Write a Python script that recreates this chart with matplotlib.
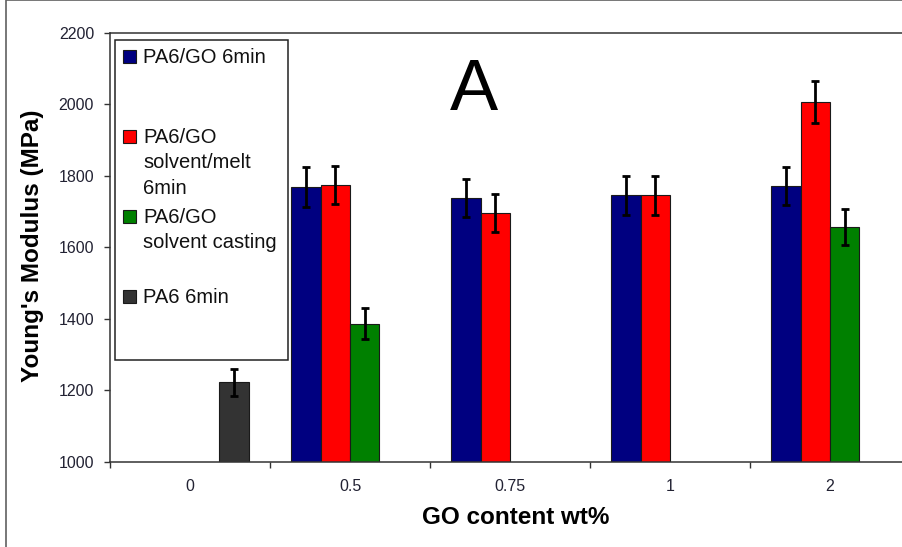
import numpy as np
import matplotlib
matplotlib.use("Agg")
import matplotlib.pyplot as plt
from matplotlib.patches import Rectangle

nan = np.nan

categories = ['0', '0.5', '0.75', '1', '2']

go_6min = [nan, 1768, 1738, 1746, 1772]
go_6min_err = [nan, 56, 54, 54, 53]

solvent_melt = [nan, 1776, 1697, 1746, 2006]
solvent_melt_err = [nan, 53, 53, 54, 59]

solvent_cast = [nan, 1387, nan, nan, 1658]
solvent_cast_err = [nan, 43, nan, nan, 50]

pa6_6min = [1223, nan, nan, nan, nan]
pa6_6min_err = [37, nan, nan, nan, nan]

series = [
    (go_6min, go_6min_err, '#000080', ['PA6/GO 6min']),
    (solvent_melt, solvent_melt_err, '#ff0000', ['PA6/GO', 'solvent/melt', '6min']),
    (solvent_cast, solvent_cast_err, '#008000', ['PA6/GO', 'solvent casting']),
    (pa6_6min, pa6_6min_err, '#333333', ['PA6 6min']),
]

W, H = 902, 547
plt.rcParams['font.family'] = ['Liberation Sans', 'DejaVu Sans']

fig = plt.figure(figsize=(W / 100, H / 100), dpi=100)


def fx(x):
    return x / W


def fy(y):
    return 1 - y / H


# outer frame of the chart
fig.add_artist(Rectangle((fx(5.5), fy(600)), fx(1000), 600 / H, transform=fig.transFigure,
                         fill=False, edgecolor='#606060', linewidth=1.2))

ax = fig.add_axes([fx(110), fy(462), fx(800), 429 / H])

x = np.arange(len(categories))
w = 0.184
for i, (vals, errs, col, _) in enumerate(series):
    pos = x + (i - 1.5) * w
    ax.bar(pos, vals, width=w, color=col, edgecolor='#1a1a1a', linewidth=0.8, zorder=2)
    ax.errorbar(pos, vals, yerr=errs, fmt='none', ecolor='black', elinewidth=2,
                capsize=3.2, capthick=2, zorder=3)

ax.set_xlim(-0.5, len(categories) - 0.5)
ax.set_ylim(1000, 2200)
ax.set_yticks(np.arange(1000, 2201, 200))
ax.set_xticks(x, categories)
ax.set_xticks(np.arange(-0.5, len(categories), 1), minor=True)
ax.tick_params(axis='x', which='major', length=0, pad=12, labelsize=11.5, labelcolor='#222233')
ax.tick_params(axis='x', which='minor', length=4.5, width=1, color='#333333', direction='out')
ax.tick_params(axis='y', length=4.5, width=1, color='#333333', direction='out',
               pad=7, labelsize=11.5, labelcolor='#222233')

for side in ['top', 'left', 'bottom', 'right']:
    ax.spines[side].set_color('#333333')
    ax.spines[side].set_linewidth(1.1)

fig.text(fx(516), fy(517), 'GO content wt%', ha='center', va='center',
         fontsize=17.5, fontweight='bold')
fig.text(fx(33), fy(246), "Young's Modulus (MPa)", ha='center', va='center',
         rotation=90, fontsize=17.5, fontweight='bold')

fig.text(fx(474), fy(110), 'A', ha='center', va='baseline', fontsize=52)

# legend box, drawn by hand to keep its uneven spacing
fig.add_artist(Rectangle((fx(115), fy(360)), fx(173), 320 / H, transform=fig.transFigure,
                         facecolor='white', edgecolor='#222222', linewidth=1.1, zorder=5))
baselines = [[63.3], [143.3, 168.5, 194], [222.7, 248], [302.7]]
for (vals, errs, col, lines), bls in zip(series, baselines):
    fig.add_artist(Rectangle((fx(123), fy(bls[0])), fx(13), 13 / H, transform=fig.transFigure,
                             facecolor=col, edgecolor='#1a1a1a', linewidth=0.8, zorder=6))
    for line, b in zip(lines, bls):
        fig.text(fx(143), fy(b), line, ha='left', va='baseline', fontsize=14.5,
                 color='#111111', zorder=6)

fig.savefig('out.png', dpi=100)
